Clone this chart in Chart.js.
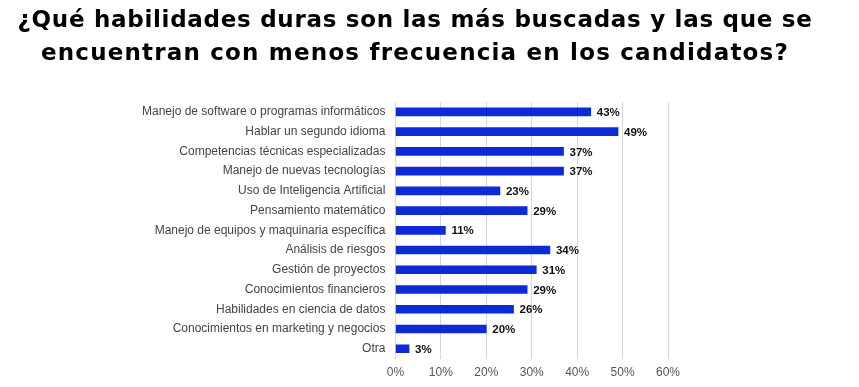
<!DOCTYPE html>
<html>
<head>
<meta charset="utf-8">
<script src="https://cdn.jsdelivr.net/npm/chart.js@4"></script>
<style>
  html, body { margin: 0; padding: 0; background: #fff; }
  #wrap { width: 859px; height: 387px; position: relative; }
  #title {
    position: absolute; left: 0; top: 3px; width: 830px;
    text-align: center; color: #000;
    font: bold 23px/33px "DejaVu Sans", sans-serif;
    white-space: nowrap;
  }
  #title span { display: inline-block; }
  #chart { position: absolute; left: 0; top: 0; }
</style>
</head>
<body>
<div id="wrap">
  <canvas id="chart"></canvas>
  <div id="title"></div>
</div>
<script>
/* ── DATA ─────────────────────────────────────────────── */
const titleLines = [
  '¿Qué habilidades duras son las más buscadas y las que se',
  'encuentran con menos frecuencia en los candidatos?'
];
const titleWidths = [795, 748];
const skills = [
  'Manejo de software o programas informáticos',
  'Hablar un segundo idioma',
  'Competencias técnicas especializadas',
  'Manejo de nuevas tecnologías',
  'Uso de Inteligencia Artificial',
  'Pensamiento matemático',
  'Manejo de equipos y maquinaria específica',
  'Análisis de riesgos',
  'Gestión de proyectos',
  'Conocimientos financieros',
  'Habilidades en ciencia de datos',
  'Conocimientos en marketing y negocios',
  'Otra'
];
const percents = [43, 49, 37, 37, 23, 29, 11, 34, 31, 29, 26, 20, 3];

/* ── TITLE: stretch each line to the width it has in the original ── */
const titleEl = document.getElementById('title');
const mctx = document.createElement('canvas').getContext('2d');
mctx.font = 'bold 23px "DejaVu Sans", sans-serif';
titleLines.forEach((line, i) => {
  const span = document.createElement('span');
  span.textContent = line;
  const w = mctx.measureText(line).width;
  span.style.letterSpacing = ((titleWidths[i] - w) / line.length) + 'px';
  titleEl.appendChild(span);
  if (i < titleLines.length - 1) titleEl.appendChild(document.createElement('br'));
});

/* ── VALUE LABELS AT BAR ENDS ─────────────────────────── */
const barLabels = {
  id: 'barLabels',
  afterDatasetsDraw(chart) {
    const { ctx } = chart;
    const meta = chart.getDatasetMeta(0);
    ctx.save();
    ctx.font = 'bold 11.5px "Liberation Sans", Arial, sans-serif';
    ctx.fillStyle = '#111';
    ctx.textBaseline = 'middle';
    meta.data.forEach((bar, i) => {
      ctx.fillText(percents[i] + '%', bar.x + 6, bar.y + 1);
    });
    ctx.restore();
  }
};

new Chart(document.getElementById('chart'), {
  type: 'bar',
  data: {
    labels: skills,
    datasets: [{
      data: percents,
      backgroundColor: '#0c2bd6',
      barThickness: 8
    }]
  },
  options: {
    indexAxis: 'y',
    responsive: true,
    maintainAspectRatio: false,
    animation: false,
    layout: { padding: { left: 132, right: 191, top: 102, bottom: 0 } },
    plugins: {
      legend: { display: false },
      tooltip: { enabled: false },
      title: { display: false }
    },
    scales: {
      x: {
        min: 0, max: 60,
        ticks: {
          stepSize: 10,
          padding: 7,
          color: '#555',
          font: { family: '"Liberation Sans", Arial', size: 12 },
          callback: v => v + '%'
        },
        grid: { color: '#d6d6d6', drawTicks: false },
        border: { display: false }
      },
      y: {
        ticks: {
          color: '#444',
          font: { family: '"Liberation Sans", Arial', size: 12 },
          padding: 10
        },
        grid: { display: false, drawTicks: false },
        border: { display: false }
      }
    }
  },
  plugins: [barLabels]
});
</script>
</body>
</html>
